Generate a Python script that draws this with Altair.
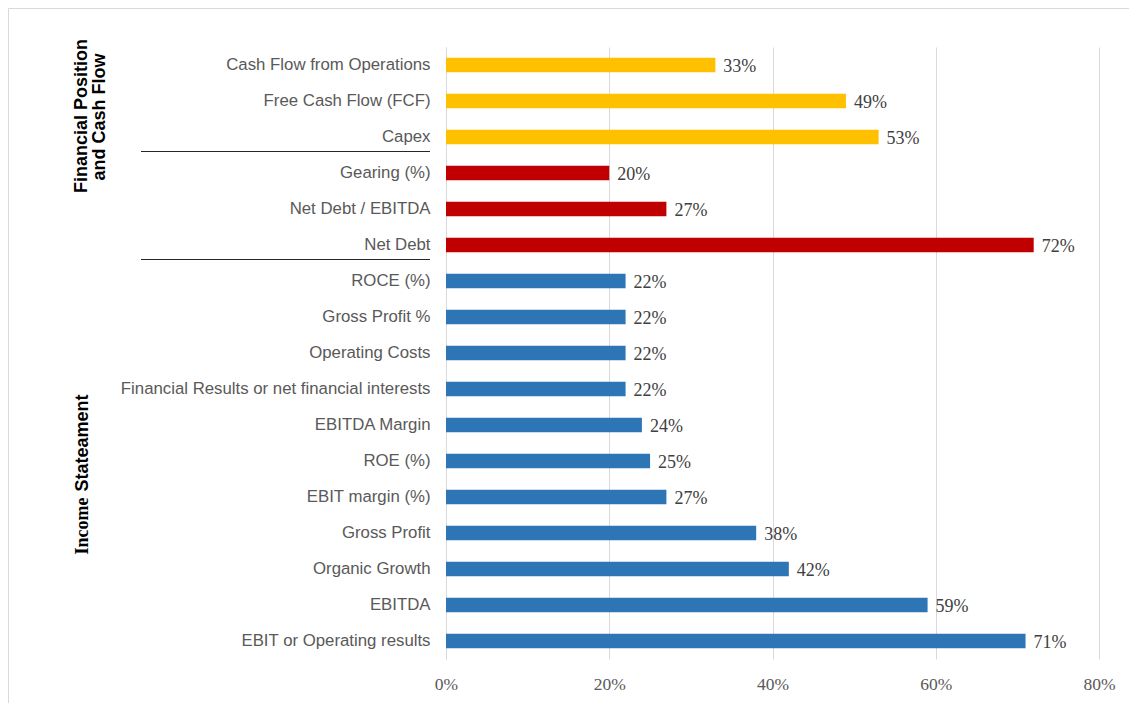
import altair as alt
import pandas as pd

categories = [
    "Cash Flow from Operations", "Free Cash Flow (FCF)", "Capex",
    "Gearing (%)", "Net Debt / EBITDA", "Net Debt",
    "ROCE (%)", "Gross Profit %", "Operating Costs",
    "Financial Results or net financial interests", "EBITDA Margin",
    "ROE (%)", "EBIT margin (%)", "Gross Profit", "Organic Growth",
    "EBITDA", "EBIT or Operating results",
]
values = [0.33, 0.49, 0.53, 0.20, 0.27, 0.72, 0.22, 0.22, 0.22, 0.22,
          0.24, 0.25, 0.27, 0.38, 0.42, 0.59, 0.71]
groups = ["Cash Flow"] * 3 + ["Financial Position"] * 3 + ["Income Statement"] * 11
group_names = ["Cash Flow", "Financial Position", "Income Statement"]
group_colors = ["#FFC000", "#C00000", "#2E75B6"]
x_ticks = [0, 0.2, 0.4, 0.6, 0.8]
separator_after = ["Gearing (%)", "ROCE (%)"]

df = pd.DataFrame({"cat": categories, "val": values, "grp": groups})
sep_df = pd.DataFrame({"cat": separator_after})

y_enc = alt.Y("cat:N", sort=categories,
              scale=alt.Scale(paddingInner=0.6, paddingOuter=0.3),
              axis=alt.Axis(title=None, ticks=False, domainColor="#d9d9d9",
                            labelFont="Liberation Sans", labelFontSize=16.8,
                            labelColor="#595959", labelPadding=16, labelLimit=0))
x_enc = alt.X("val:Q", scale=alt.Scale(domain=[0, 0.8], nice=False),
              axis=alt.Axis(title=None, values=x_ticks, format=".0%",
                            domain=False, ticks=False, gridColor="#d9d9d9",
                            labelFlush=False,
                            labelFont="Liberation Serif", labelFontSize=17.5,
                            labelColor="#595959", labelPadding=16))

bars = alt.Chart(df).mark_bar().encode(
    y=y_enc, x=x_enc,
    color=alt.Color("grp:N", scale=alt.Scale(domain=group_names, range=group_colors),
                    legend=None),
)

labels = alt.Chart(df).mark_text(align="left", baseline="middle", dx=8, dy=2,
                                  font="Liberation Serif", fontSize=18,
                                  color="#404040").encode(
    y=alt.Y("cat:N", sort=categories), x="val:Q",
    text=alt.Text("val:Q", format=".0%"),
)

seps = alt.Chart(sep_df).mark_rule(color="#262626", strokeWidth=1, yOffset=-21.5).encode(
    y=alt.Y("cat:N", sort=categories),
    x=alt.value(-305), x2=alt.value(-16),
)

def vtext(txt, font, x, y, size=18):
    return alt.Chart(pd.DataFrame({"t": [txt]})).mark_text(
        angle=270, font=font, fontSize=size, fontWeight="bold", color="#000000",
        align="center", baseline="middle").encode(
        text="t:N", x=alt.value(x), y=alt.value(y))

g1 = vtext("Financial Position", "Liberation Sans", -364, 69)
g2 = vtext("and Cash Flow", "Liberation Sans", -346, 70)
g3 = vtext("Stateament", "Liberation Sans", -363, 396)
g4 = vtext("Income", "Liberation Serif", -363, 479)

frame = alt.Chart(pd.DataFrame({"a": [0]})).mark_rect(
    fill=None, stroke="#d9d9d9", strokeWidth=1).encode(
    x=alt.value(-437.5), y=alt.value(-38.5), x2=alt.value(2000), y2=alt.value(2000))

chart = alt.layer(frame, bars, labels, seps, g1, g2, g3, g4).properties(
    width=653, height=612,
    autosize=alt.AutoSizeParams(type="none"),
    padding={"left": 438, "top": 39, "right": 30, "bottom": 44},
).configure_view(stroke=None)

chart.save("out.html", embed_options={"renderer": "svg", "actions": False})
